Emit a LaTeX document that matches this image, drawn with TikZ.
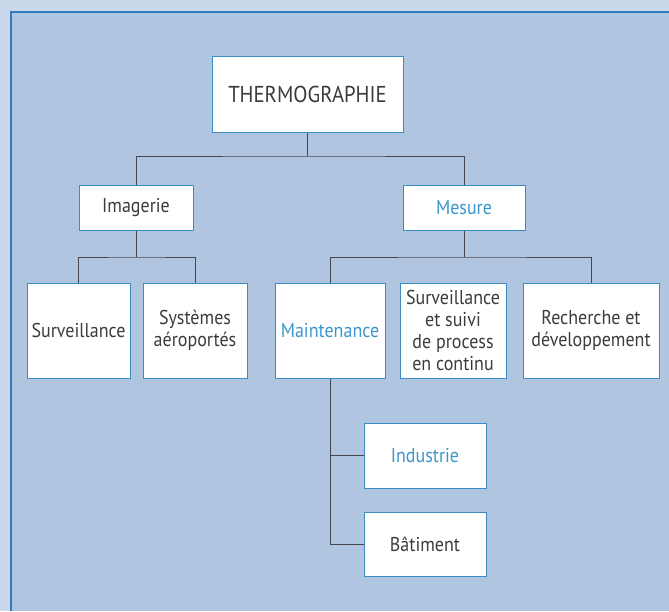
\documentclass[tikz,border=0pt]{standalone}
\usepackage{fontspec}
\setmainfont{PT Sans}[FakeStretch=0.9]
\definecolor{outerbg}{HTML}{C9D8EA}
\definecolor{panelbg}{HTML}{AFC5E0}
\definecolor{panelline}{HTML}{2F7DBD}
\definecolor{boxline}{HTML}{3A8CC6}
\definecolor{txtdark}{HTML}{3C3C3E}
\definecolor{txtblue}{HTML}{3C96CB}
\definecolor{conn}{HTML}{45474F}
\tikzset{
  box/.style={draw=boxline, line width=1pt, fill=white, rectangle, inner sep=0pt,
    align=center, text=txtdark, font=\fontsize{20}{22}\selectfont},
  bluetxt/.style={text=txtblue},
  link/.style={draw=conn, line width=1pt}
}
\begin{document}
\begin{tikzpicture}[x=1pt,y=-1pt]
\useasboundingbox (0,0) rectangle (669,611);
\fill[outerbg] (0,0) rectangle (669,611);
\fill[panelbg] (11,12) rectangle (669,611);
\draw[panelline, line width=1.6pt] (11,611) -- (11,12) -- (669,12);

\node[box, minimum width=191pt, minimum height=76pt, font=\fontsize{23}{26}\selectfont] (th) at (307.5,94) {THERMOGRAPHIE};
\node[box, minimum width=114pt, minimum height=45pt] (img) at (136,207.5) {Imagerie};
\node[box, bluetxt, minimum width=122pt, minimum height=45pt] (mes) at (464,207.5) {Mesure};
\node[box, minimum width=103pt, minimum height=95pt] (surv) at (78.5,330.5) {Surveillance};
\node[box, minimum width=104pt, minimum height=95pt] (sys) at (195,330.5) {Systèmes\\aéroportés};
\node[box, bluetxt, minimum width=110pt, minimum height=95pt] (maint) at (330,330.5) {Maintenance};
\node[box, minimum width=106pt, minimum height=95pt] (suiv) at (453,330.5) {Surveillance\\et suivi\\de process\\en continu};
\node[box, minimum width=136pt, minimum height=95pt] (rech) at (591,330.5) {Recherche et\\développement};
\node[box, bluetxt, minimum width=122pt, minimum height=65pt] (ind) at (425,455.5) {Industrie};
\node[box, minimum width=122pt, minimum height=64pt] (bat) at (425,544) {Bâtiment};

\coordinate (j1) at (307.5,156);
\coordinate (j2) at (136,257);
\coordinate (j3) at (464,257);

\draw[link] (th.south) -- (j1);
\draw[link] (img.north) |- (j1) -| (mes.north);
\draw[link] (img.south) -- (j2);
\draw[link] (surv.north) |- (j2) -| (sys.north);
\draw[link] (mes.south) -- (j3);
\draw[link] (maint.north) |- (j3) -| (rech.north);
\draw[link] (maint.south) |- (bat.west);
\draw[link] (ind.west) -- (ind.west -| maint.south);
\end{tikzpicture}
\end{document}
